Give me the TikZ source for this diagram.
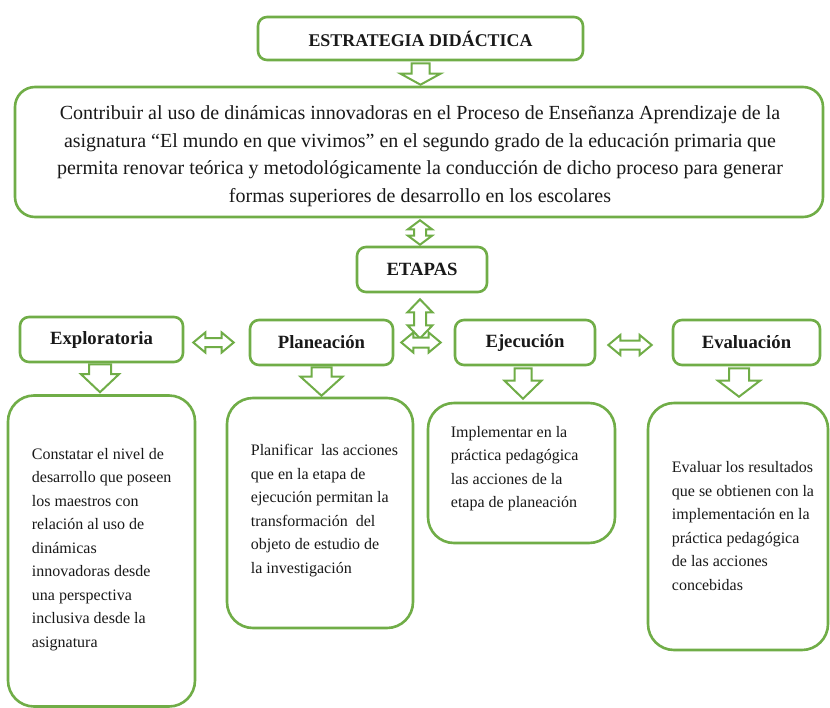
\documentclass[tikz,border=0pt]{standalone}
\usepackage{fontspec}
\setmainfont{Liberation Serif}
\usetikzlibrary{calc}
\definecolor{grn}{RGB}{112,173,71}
\definecolor{ink}{RGB}{25,25,25}
% block arrow pointing down: #1 top point, #2 tip point, #3 shaft half width, #4 head half width, #5 head length
\newcommand\arrdown[5]{\draw[blk] let \p1=#1, \p2=#2 in
 (\x1-#3pt,\y1) -- (\x1+#3pt,\y1) -- (\x1+#3pt,\y2+#5pt) -- (\x1+#4pt,\y2+#5pt) -- (\x1,\y2)
 -- (\x1-#4pt,\y2+#5pt) -- (\x1-#3pt,\y2+#5pt) -- cycle;}
% vertical double block arrow
\newcommand\arrud[5]{\draw[blk] let \p1=#1, \p2=#2 in
 (\x1,\y1) -- (\x1+#4pt,\y1-#5pt) -- (\x1+#3pt,\y1-#5pt) -- (\x1+#3pt,\y2+#5pt) -- (\x1+#4pt,\y2+#5pt)
 -- (\x1,\y2) -- (\x1-#4pt,\y2+#5pt) -- (\x1-#3pt,\y2+#5pt) -- (\x1-#3pt,\y1-#5pt) -- (\x1-#4pt,\y1-#5pt) -- cycle;}
% horizontal double block arrow
\newcommand\arrlr[5]{\draw[blk] let \p1=#1, \p2=#2 in
 (\x1,\y1) -- (\x1+#5pt,\y1+#4pt) -- (\x1+#5pt,\y1+#3pt) -- (\x2-#5pt,\y1+#3pt) -- (\x2-#5pt,\y1+#4pt)
 -- (\x2,\y1) -- (\x2-#5pt,\y1-#4pt) -- (\x2-#5pt,\y1-#3pt) -- (\x1+#5pt,\y1-#3pt) -- (\x1+#5pt,\y1-#4pt) -- cycle;}
\begin{document}
\begin{tikzpicture}[x=1pt,y=-1pt,
  box/.style={draw=grn, line width=2.6pt, fill=white, text=ink, inner sep=0pt},
  stage/.style={box, rounded corners=9pt, minimum height=45pt,
    font=\bfseries\fontsize{18.7}{22}\selectfont},
  desc/.style={box, rounded corners=26pt},
  desctext/.style={text=ink, inner sep=0pt, align=left, anchor=west,
    font=\fontsize{16}{23.5}\selectfont},
  blk/.style={draw=grn, line width=2pt, fill=white, line join=miter}]
\fill[white] (0,0) rectangle (830,707);
\useasboundingbox (0,0) rectangle (830,707);

% title and objective
\node[stage, minimum width=325pt, minimum height=43pt,
  font=\bfseries\fontsize{17.9}{21}\selectfont] (title) at (420.5,38.5) {ESTRATEGIA DIDÁCTICA};
\node[box, rounded corners=20pt, minimum width=808pt, minimum height=130pt] (main) at (419,152) {};
\node[text=ink, align=center, inner sep=0pt, font=\fontsize{20}{27.5}\selectfont] (maintext) at (420,156)
 {Contribuir al uso de dinámicas innovadoras en el Proceso de Enseñanza Aprendizaje de la\\
  asignatura “El mundo en que vivimos” en el segundo grado de la educación primaria que\\
  permita renovar teórica y metodológicamente la conducción de dicho proceso para generar\\
  formas superiores de desarrollo en los escolares};

\node[stage, minimum width=130pt] (etapas) at (422,269.5) {ETAPAS};

% stages
\node[stage, minimum width=163pt] (explo) at (101.5,339.5) {Exploratoria};
\node[stage, minimum width=143pt] (plan) at (321.5,342.5) {Planeación};
\node[stage, minimum width=140pt] (ejec) at (525,342.5) {Ejecución};
\node[stage, minimum width=147pt] (eval) at (746.5,342.5) {Evaluación};

% description boxes
\node[desc, minimum width=187pt, minimum height=311pt] (box1) at (101.5,551) {};
\node[desc, minimum width=186pt, minimum height=230pt] (box2) at (320,513) {};
\node[desc, minimum width=187pt, minimum height=140pt] (box3) at (521.5,473) {};
\node[desc, minimum width=180pt, minimum height=247pt] (box4) at (738,526.5) {};

\node[desctext] (text1) at ($(box1.west)+(25,-1.5)$)
 {Constatar el nivel de\\ desarrollo que poseen\\ los maestros con\\ relación al uso de\\ dinámicas\\
  innovadoras desde\\ una perspectiva\\ inclusiva desde la\\ asignatura};
\node[desctext] (text2) at ($(box2.west)+(25,-2.5)$)
 {Planificar\ \ las acciones\\ que en la etapa de\\ ejecución permitan la\\ transformación\ \ del\\
  objeto de estudio de\\ la investigación};
\node[desctext] (text3) at ($(box3.west)+(24,-4.5)$)
 {Implementar en la\\ práctica pedagógica\\ las acciones de la\\ etapa de planeación};
\node[desctext] (text4) at ($(box4.west)+(25,-0.5)$)
 {Evaluar los resultados\\ que se obtienen con la\\ implementación en la\\ práctica pedagógica\\
  de las acciones\\ concebidas};

% block arrows
\arrdown{($(title.south)+(0,2)$)}{($(main.north)+(0,-1)$)}{9}{20}{11}
\arrud{($(main.south)+(1,2)$)}{($(etapas.north)+(-2,-1)$)}{6}{12}{9}
\arrud{($(etapas.south)+(-2,6)$)}{($(etapas.south)+(-2,45)$)}{6}{12.5}{13}
\arrlr{($(plan.east)+(7,0)$)}{($(ejec.west)+(-13,0)$)}{5}{10}{12}
\arrlr{($(explo.east)+(9,3)$)}{($(plan.west)+(-15,0)$)}{4.5}{10}{12}
\arrlr{($(ejec.east)+(12,2.5)$)}{($(eval.west)+(-20,0)$)}{4.5}{10}{12}

\arrdown{($(explo.south)+(-1.5,1)$)}{($(box1.north)+(0,-2)$)}{11}{19}{18}
\arrdown{($(plan.south)+(0,1)$)}{($(box2.north)+(0,-1)$)}{10}{21}{19}
\arrdown{($(ejec.south)+(-2,2)$)}{($(box3.north)+(0,-3)$)}{8.5}{18.5}{18}
\arrdown{($(box4.north |- eval.south)+(1,2)$)}{($(box4.north)+(0,-5)$)}{10}{21}{16}
\end{tikzpicture}
\end{document}
